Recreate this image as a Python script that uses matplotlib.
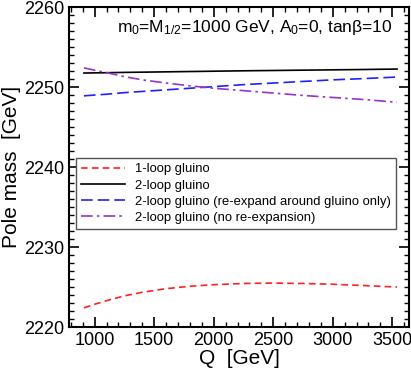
import matplotlib
matplotlib.use("Agg")
import matplotlib.pyplot as plt
from matplotlib.ticker import MultipleLocator

plt.rcParams["font.family"] = ["Liberation Sans", "DejaVu Sans"]
plt.rcParams["mathtext.fontset"] = "custom"
plt.rcParams["mathtext.rm"] = "Liberation Sans"
plt.rcParams["mathtext.it"] = "Liberation Sans"

# Renormalization scale Q [GeV]
Q = [910, 1000, 1100, 1250, 1400, 1600, 1800, 2000, 2250, 2500, 2750, 3000,
     3250, 3540]

# Gluino pole mass [GeV]
one_loop = [2222.4, 2222.85, 2223.3, 2223.9, 2224.35, 2224.8, 2225.1, 2225.3,
            2225.45, 2225.5, 2225.45, 2225.35, 2225.2, 2225.0]
two_loop = [2251.75, 2251.77, 2251.79, 2251.83, 2251.86, 2251.9, 2251.94,
            2251.98, 2252.03, 2252.07, 2252.11, 2252.15, 2252.19, 2252.25]
two_loop_reexp = [2248.9, 2249.0, 2249.1, 2249.3, 2249.45, 2249.65, 2249.85,
                  2250.05, 2250.3, 2250.5, 2250.7, 2250.9, 2251.05, 2251.25]
two_loop_noreexp = [2252.4, 2252.1, 2251.8, 2251.3, 2250.9, 2250.5, 2250.15,
                    2249.85, 2249.55, 2249.25, 2248.95, 2248.7, 2248.45, 2248.1]

fig, ax = plt.subplots(figsize=(4.11, 3.70), dpi=100)
fig.subplots_adjust(left=0.168, right=0.995, top=0.981, bottom=0.116)

ax.plot(Q, one_loop, color="#ff2020", lw=1.2, dashes=(4, 2.5), label="1-loop gluino")
ax.plot(Q, two_loop, color="black", lw=1.2, label="2-loop gluino")
ax.plot(Q, two_loop_reexp, color="#2020ff", lw=1.2, dashes=(7, 3),
        label="2-loop gluino (re-expand around gluino only)")
ax.plot(Q, two_loop_noreexp, color="#9932cc", lw=1.2, dashes=(7, 2.5, 1.5, 2.5),
        label="2-loop gluino (no re-expansion)")

ax.set_xlim(785, 3640)
ax.set_ylim(2220, 2260)
ax.xaxis.set_major_locator(MultipleLocator(500))
ax.xaxis.set_minor_locator(MultipleLocator(100))
ax.yaxis.set_major_locator(MultipleLocator(10))
ax.yaxis.set_minor_locator(MultipleLocator(1))
ax.tick_params(which="both", direction="in", top=True, right=True, labelsize=13)
ax.tick_params(which="major", length=7, width=1.2)
ax.tick_params(which="minor", length=3.5, width=1)
for s in ax.spines.values():
    s.set_linewidth(1.5)

ax.set_xlabel("Q  [GeV]", fontsize=15, labelpad=0)
ax.set_ylabel("Pole mass  [GeV]", fontsize=15, labelpad=2)

ax.text(0.547, 0.937, r"m$_0$=M$_{1/2}$=1000 GeV, A$_0$=0, tan$\beta$=10",
        transform=ax.transAxes, ha="center", va="center", fontsize=12.5)

leg = ax.legend(loc="upper left", bbox_to_anchor=(0.02, 0.528), fontsize=9.4,
                fancybox=False, framealpha=1, edgecolor="#555555",
                handlelength=3.4, handletextpad=0.75, borderpad=0.4,
                labelspacing=0.3, borderaxespad=0)
leg.get_frame().set_linewidth(1.0)

plt.savefig("out.png", dpi=100)
